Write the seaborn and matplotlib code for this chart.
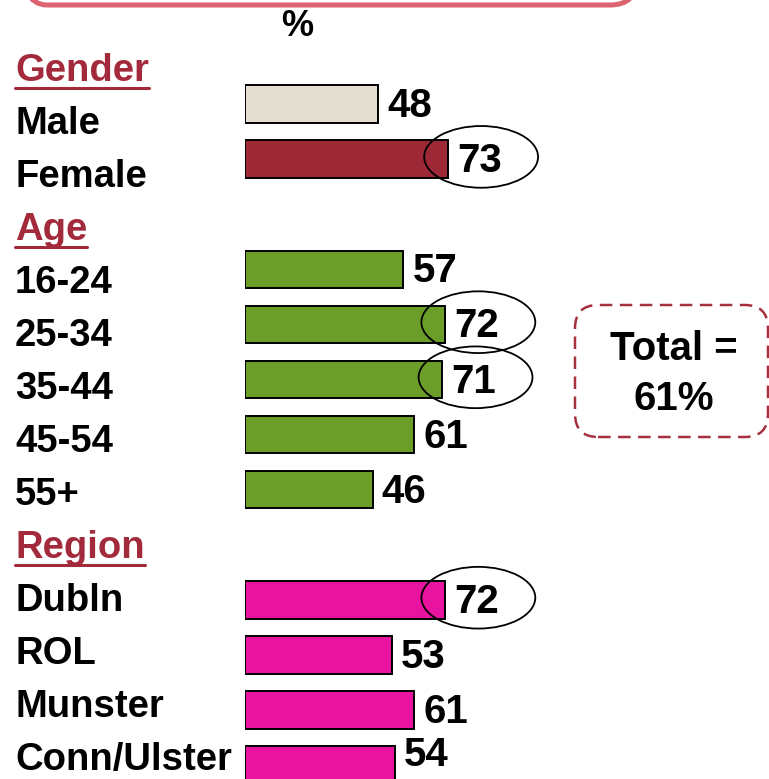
import matplotlib
matplotlib.use("Agg")
import matplotlib.pyplot as plt
import seaborn as sns
import pandas as pd
from matplotlib.patches import Ellipse, FancyBboxPatch
from matplotlib.lines import Line2D

sns.set_theme(style="white")
plt.rcParams['font.family'] = ['Liberation Sans', 'DejaVu Sans']
plt.rcParams['text.color'] = 'black'

# data
group_names = ["Gender", "Age", "Region"]
gender_labels = ["Male", "Female"]
gender_values = [48, 73]
age_labels = ["16-24", "25-34", "35-44", "45-54", "55+"]
age_values = [57, 72, 71, 61, 46]
region_labels = ["Dubln", "ROL", "Munster", "Conn/Ulster"]
region_values = [72, 53, 61, 54]
circled = ["Female", "25-34", "35-44", "Dubln"]
total_pct = 61

HEAD_COL = "#A32A3B"
bar_colors = {"Male": "#E3DDD2", "Female": "#9E2936"}
bar_colors.update({k: "#6B9E28" for k in age_labels})
bar_colors.update({k: "#E8149F" for k in region_labels})

W, H = 769, 779
FS_LAB = 27.5
FS_VAL = 29

# one empty slot before each section heading (except the first)
order = gender_labels + [" "] + age_labels + ["  "] + region_labels
df = pd.DataFrame({
    "label": gender_labels + age_labels + region_labels,
    "value": gender_values + age_values + region_values,
})

fig = plt.figure(figsize=(W / 100, H / 100), dpi=100)
ax = fig.add_axes([245 / W, 0, 500 / W, 1])

sns.barplot(data=df, x="value", y="label", order=order, hue="label",
            palette=bar_colors, dodge=False, width=0.68, saturation=1,
            edgecolor="black", linewidth=1.4, legend=False, ax=ax)

ax.set_xlim(0, 180)
ax.set_ylim(12.25, -1.887)
ax.axis("off")

# value labels
vals = []
for lab, v in zip(df["label"], df["value"]):
    s = order.index(lab)
    a = ax.annotate(f"{v}", xy=(v, s), xytext=(6.5, -1.5),
                    textcoords="offset points", ha="left", va="center",
                    fontsize=FS_VAL, fontweight="bold", color="black")
    vals.append(a)

# circles round the highlighted values
for lab in circled:
    v = df.loc[df["label"] == lab, "value"].iloc[0]
    s = order.index(lab)
    ax.add_patch(Ellipse((v + 12, s - 0.04), 41, 1.12, facecolor="none",
                         edgecolor="black", linewidth=1.3, zorder=5))


def label_y(slot):
    return 1 - (124 + 53 * slot) / H


for s, lab in enumerate(order):
    if lab.strip():
        fig.text(15 / W, label_y(s), lab, ha="left", va="center",
                 fontsize=FS_LAB, fontweight="bold", color="black")

heads = []
for name, slot in zip(group_names, [-1, 2, 8]):
    t = fig.text(15 / W, label_y(slot), name, ha="left", va="center",
                 fontsize=FS_LAB, fontweight="bold", color=HEAD_COL)
    heads.append((t, slot))

fig.text(297 / W, 1 - 27 / H, "%", ha="center", va="center",
         fontsize=26, fontweight="bold", color="black")

# total box
fig.patches.append(FancyBboxPatch((575 / W, 1 - 437 / H), 193 / W, 132 / H,
                                  boxstyle="round,pad=0,rounding_size=0.03",
                                  transform=fig.transFigure, facecolor="none",
                                  edgecolor="#A6303F", linewidth=1.8,
                                  linestyle=(0, (5, 3))))
fig.text(674 / W, 1 - 349 / H, "Total =", ha="center", va="center",
         fontsize=FS_VAL, fontweight="bold", color="black")
fig.text(674 / W, 1 - 399 / H, f"{total_pct}%", ha="center", va="center",
         fontsize=FS_VAL, fontweight="bold", color="black")

# bottom edge of the title box above the chart
fig.patches.append(FancyBboxPatch((20 / W, 1 - 5 / H), 617 / W, 80 / H,
                                  boxstyle="round,pad=0,rounding_size=0.035",
                                  transform=fig.transFigure, facecolor="none",
                                  edgecolor="#DC6470", linewidth=3.6))

fig.canvas.draw()

# underline the section headings
for t, slot in heads:
    bb = t.get_window_extent()
    yy = 1 - (124 + 53 * slot + 17) / H
    fig.lines.append(Line2D([bb.x0 / W, bb.x1 / W], [yy, yy],
                            transform=fig.transFigure, color=HEAD_COL,
                            linewidth=2.2))

# keep value labels inside the picture
for a in vals:
    bb = a.get_window_extent()
    if bb.y0 < 5:
        dx, dy = a.xyann
        a.xyann = (dx, dy + (5 - bb.y0) * 0.72)

fig.savefig("out.png", dpi=100)
